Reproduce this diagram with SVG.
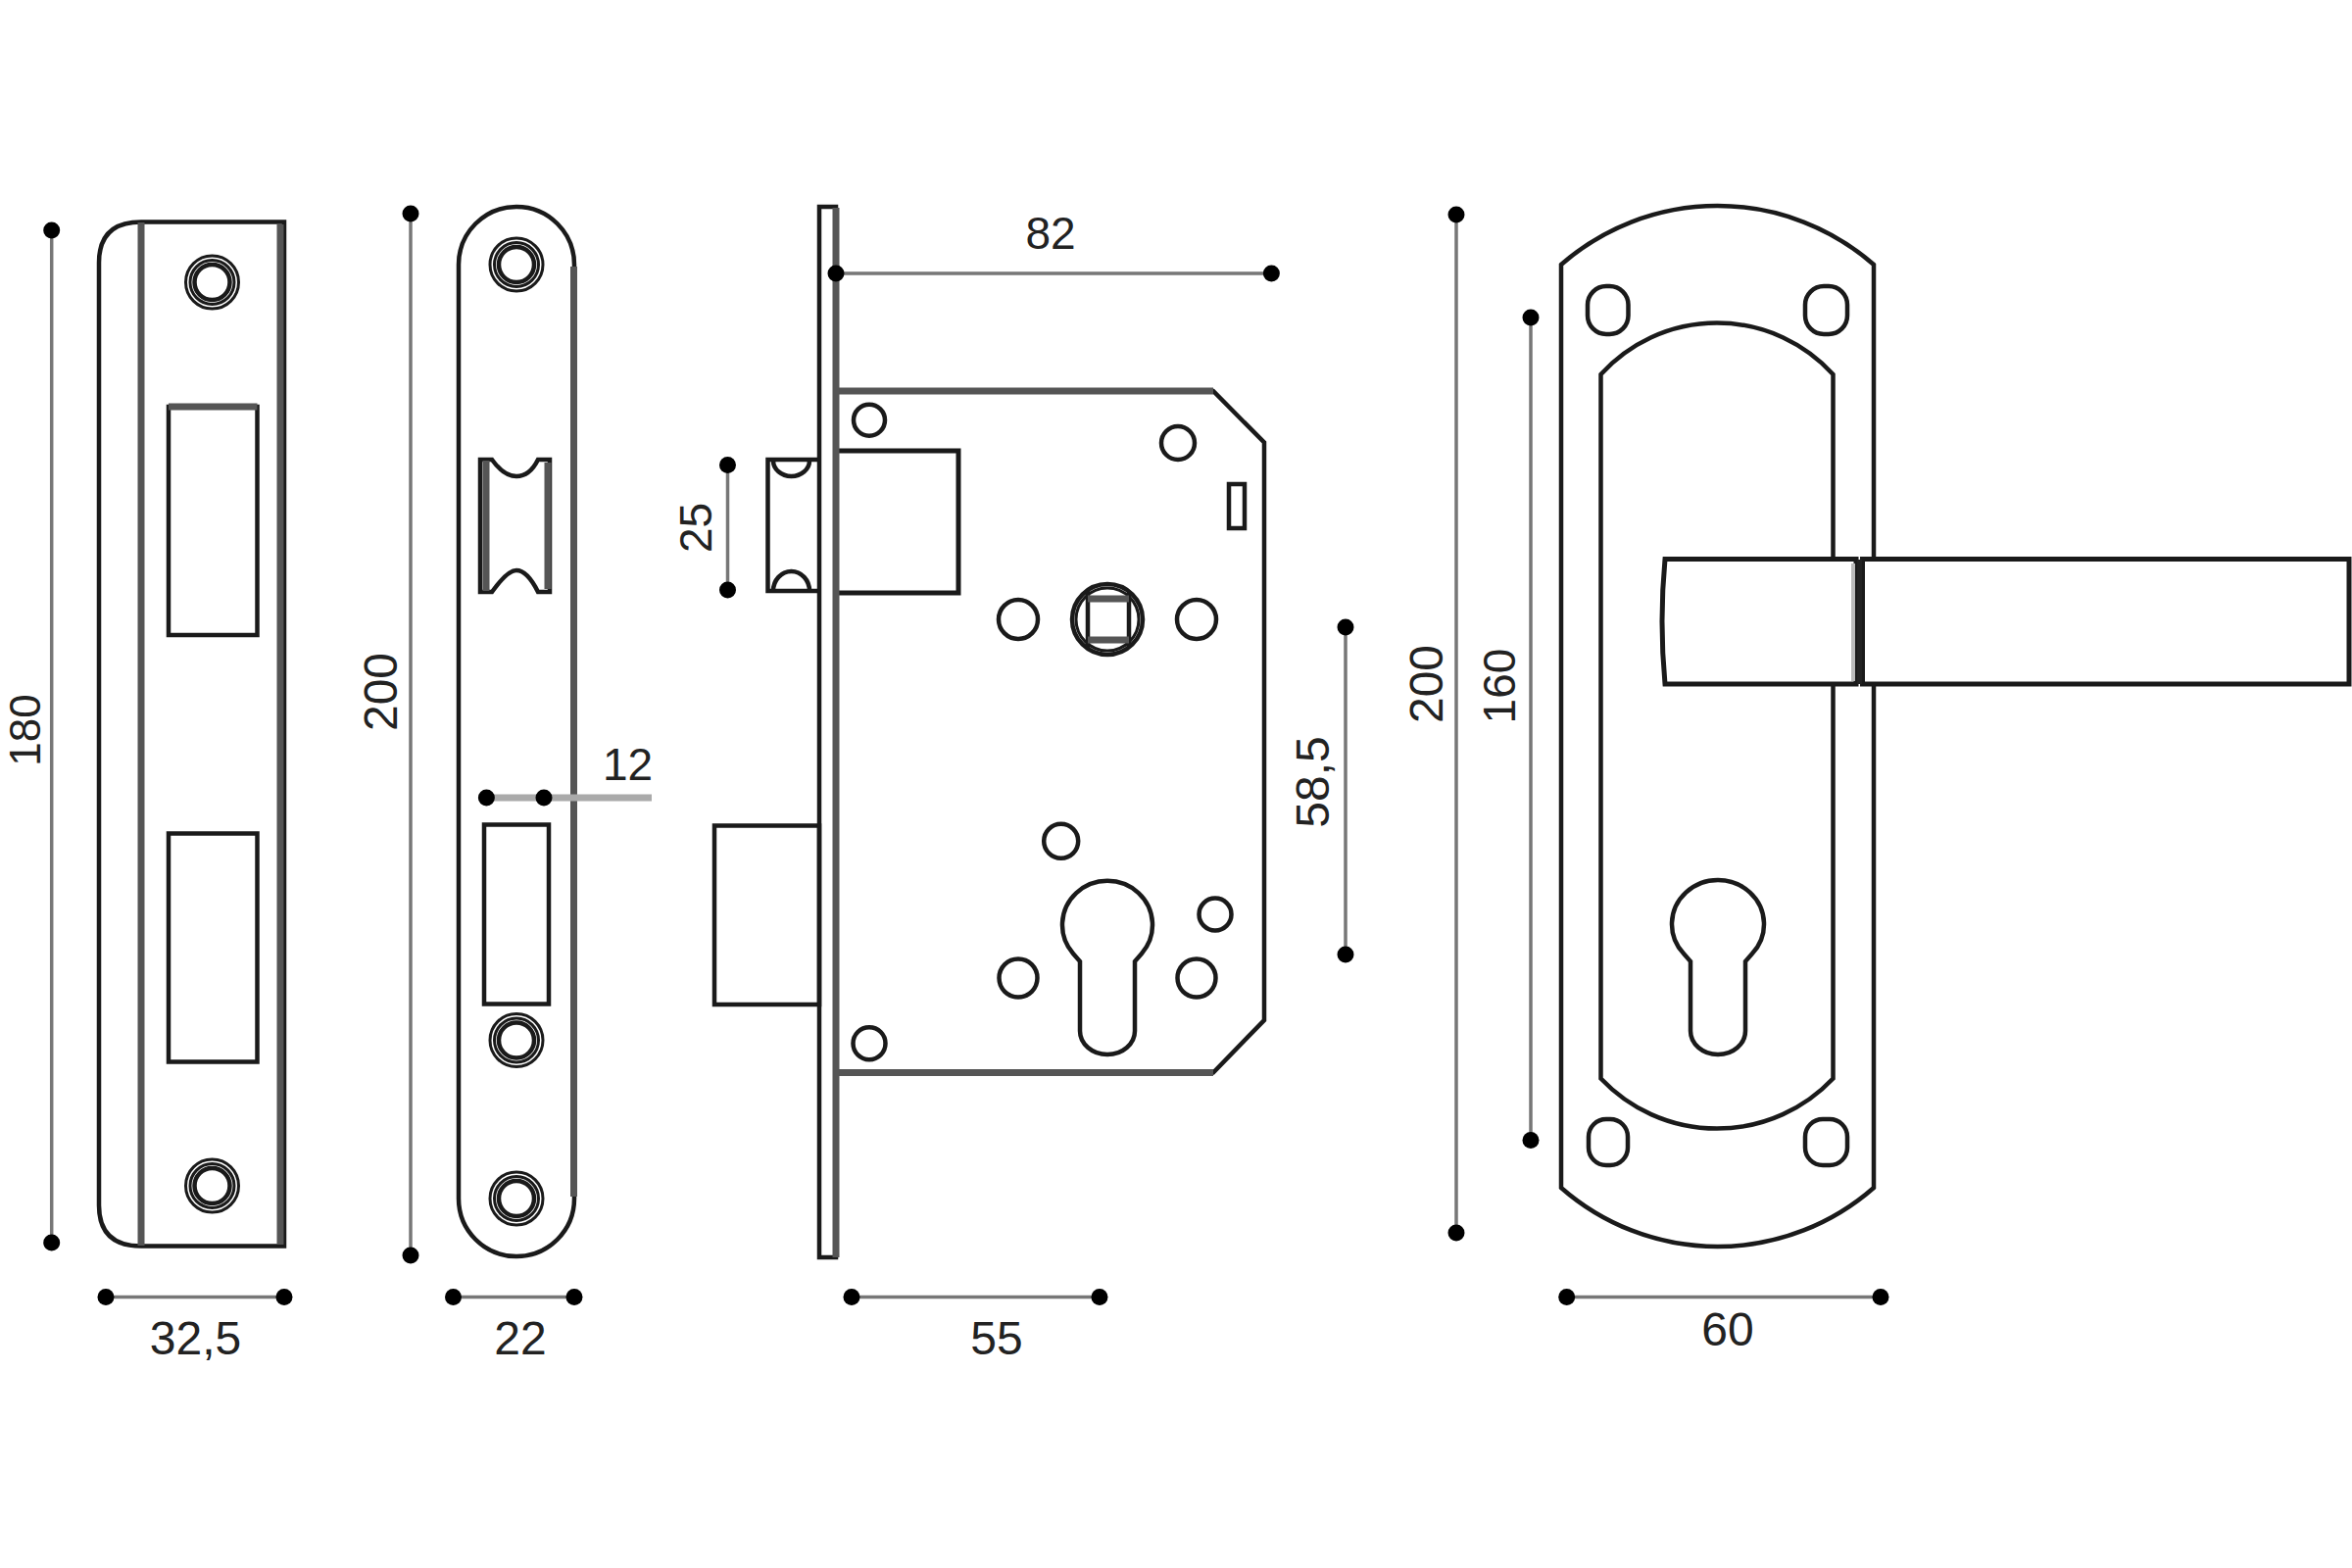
<svg xmlns="http://www.w3.org/2000/svg" width="2400" height="1600" viewBox="0 0 2400 1600">
<style>
.o{fill:none;stroke:#1a1a1a;stroke-width:4.5}
.w{fill:#fff;stroke:#1a1a1a;stroke-width:5}
.g{fill:none;stroke:#555;stroke-width:7}
.t{fill:none;stroke:#1a1a1a;stroke-width:3}
.d{stroke:#777;stroke-width:3.5;fill:none}
.l{stroke:#aaa;stroke-width:7;fill:none}
.p{fill:#000}
text{font-family:"Liberation Sans",Arial,sans-serif;font-size:46px;fill:#222;text-anchor:middle}
.b{font-size:48px}
.s{font-size:44px}
</style>
<defs>
<g id="screw"><circle r="27" class="t"/><circle r="22.500" class="t" stroke="#777"/><circle r="18" class="o"/></g>
</defs>
<rect width="2400" height="1600" fill="#fff"/>

<g id="strike-plate-wide">
<path class="o" d="M144 226.500H290V1271.500H144Q101 1271.500 101 1230V268Q101 226.500 144 226.500Z"/>
<path class="g" d="M144 227V1271"/>
<path class="g" d="M286 229V1270" stroke-width="4" stroke="#999"/>
<rect class="o" x="172" y="415" width="90.500" height="233"/>
<rect class="o" x="172" y="850.500" width="90.500" height="233"/>
<path class="g" d="M172 415H262.500" stroke-width="6"/>
<use href="#screw" x="216.500" y="288"/>
<use href="#screw" x="216.500" y="1210"/>
</g>

<g id="strike-plate-round">
<path class="o" d="M468 270A59 59 0 0 1 586 270V1223A59 59 0 0 1 468 1223Z"/>
<path class="g" d="M585.500 272V1221" stroke-width="5" stroke="#555"/>
<path class="o" d="M490 469H502C512 483 520 486 527 486C534 486 542 483 549 469H561V604H549C542 590 534 582 527 582C520 582 512 590 502 604H490Z"/>
<path class="g" d="M496 470V603" stroke-width="12"/>
<path class="g" d="M559 472V601" stroke-width="4" stroke="#888"/>
<rect class="o" x="494" y="841.500" width="66" height="183"/>
<use href="#screw" x="527" y="270"/>
<use href="#screw" x="527" y="1061.500"/>
<use href="#screw" x="527" y="1223"/>
</g>

<g id="lock-body">
<path class="o" d="M836 469H783.500V603H836"/>
<path class="o" d="M789 470A18.500 16 0 0 0 826 470M789 603A18.500 20 0 0 1 826 603" stroke-width="3.500"/>
<rect class="o" x="729" y="842.500" width="107" height="182.500"/>
<rect class="w" x="853" y="460" width="125" height="145"/>
<path class="o" d="M853 399H1238L1290 451.500V1041L1238 1094.500H853"/>
<path class="g" d="M853 399H1238M853 1094.500H1238" stroke="#444"/>
<rect class="o" x="836" y="211" width="17" height="1072"/>
<path class="g" d="M853 212V1283" stroke-width="6"/>
<circle class="o" cx="887" cy="428.700" r="16"/>
<circle class="o" cx="1202" cy="452" r="17"/>
<rect class="o" x="1254" y="494" width="16" height="45" stroke="#444"/>
<circle class="o" cx="1039" cy="632" r="20"/>
<circle class="o" cx="1221" cy="632" r="20"/>
<circle class="o" cx="1130" cy="632" r="36"/>
<circle class="t" cx="1130" cy="632" r="32" stroke="#bbb"/>
<path class="o" d="M1110 603V661M1152 603V661"/>
<path class="g" d="M1110 611H1152M1110 653H1152" stroke-width="6"/>
<circle class="o" cx="1082.700" cy="858.300" r="17.500"/>
<circle class="o" cx="1240" cy="933" r="16.500"/>
<circle class="o" cx="1039" cy="998" r="19.500"/>
<circle class="o" cx="1221" cy="998" r="19.500"/>
<circle class="o" cx="887" cy="1064.700" r="16.500"/>
<path class="o" d="M1102 1052V981L1095 973A46 45 0 1 1 1165 973L1158 981V1052A28 24 0 0 1 1102 1052Z"/>
</g>

<g id="handle-plate">
<path class="o" d="M1593 270A242 242 0 0 1 1912 270V1212A242 242 0 0 1 1593 1212Z"/>
<path class="o" d="M1633.500 382A160 160 0 0 1 1870.500 382V1100.500A163 163 0 0 1 1633.500 1100.500Z"/>
<rect class="o" x="1620" y="292" width="41.500" height="49" rx="19"/>
<rect class="o" x="1842" y="292" width="43" height="49" rx="19"/>
<rect class="o" x="1621" y="1142" width="40" height="47" rx="18"/>
<rect class="o" x="1842" y="1142" width="43" height="47" rx="18"/>
<path class="o" d="M1725 1052V981L1718 973A47 45 0 1 1 1788 973L1781 981V1052A28 24 0 0 1 1725 1052Z"/>
</g>

<g id="handle-lever">
<path class="w" d="M1699 570.500H1894V698H1699Q1693 634 1699 570.500Z"/>
<rect class="w" x="1900.500" y="570.500" width="496.500" height="127.500"/>
<path d="M1897.500 571V698" stroke="#222" stroke-width="5" fill="none"/>
<path d="M1891 575V695" stroke="#bbb" stroke-width="4" fill="none"/>
</g>

<g id="connectors">
<path class="d" d="M52.700 235V1268"/>
<path class="d" d="M419 218V1281" stroke="#bbb" stroke-width="5"/>
<path class="l" d="M496.400 814H665"/>
<path class="d" d="M108 1323.500H290M462.500 1323.500H586M853 279H1297.400M742.500 474.600V602M1373 640V974M869 1323.500H1122M1486 219V1258M1562 324V1163.500M1598.700 1323.500H1919"/>
<g class="p">
<circle cx="52.700" cy="235" r="8.500"/><circle cx="52.700" cy="1268" r="8.500"/>
<circle cx="419" cy="218" r="8.500"/><circle cx="419" cy="1281" r="8.500"/>
<circle cx="496.400" cy="814" r="8.500"/><circle cx="555" cy="814" r="8.500"/>
<circle cx="108" cy="1323.500" r="8.500"/><circle cx="290" cy="1323.500" r="8.500"/>
<circle cx="462.500" cy="1323.500" r="8.500"/><circle cx="586" cy="1323.500" r="8.500"/>
<circle cx="853" cy="279" r="8.500"/><circle cx="1297.400" cy="279" r="8.500"/>
<circle cx="742.500" cy="474.600" r="8.500"/><circle cx="742.500" cy="602" r="8.500"/>
<circle cx="1373" cy="640" r="8.500"/><circle cx="1373" cy="974" r="8.500"/>
<circle cx="869" cy="1323.500" r="8.500"/><circle cx="1122" cy="1323.500" r="8.500"/>
<circle cx="1486" cy="219" r="8.500"/><circle cx="1486" cy="1258" r="8.500"/>
<circle cx="1562" cy="324" r="8.500"/><circle cx="1562" cy="1163.500" r="8.500"/>
<circle cx="1598.700" cy="1323.500" r="8.500"/><circle cx="1919" cy="1323.500" r="8.500"/>
</g>
</g>

<g id="labels">
<text class="s" transform="translate(40.500 745) rotate(-90)">180</text>
<text class="b" transform="translate(405 706) rotate(-90)">200</text>
<text x="640.500" y="796">12</text>
<text class="b" x="199.500" y="1382">32,5</text>
<text class="b" x="531" y="1382">22</text>
<text x="1072" y="253.500">82</text>
<text transform="translate(726 538.500) rotate(-90)">25</text>
<text class="b" transform="translate(1356 798) rotate(-90)">58,5</text>
<text class="b" x="1017" y="1382">55</text>
<text class="b" transform="translate(1472 698) rotate(-90)">200</text>
<text transform="translate(1546 700) rotate(-90)">160</text>
<text class="b" x="1763" y="1373">60</text>
</g>
</svg>
